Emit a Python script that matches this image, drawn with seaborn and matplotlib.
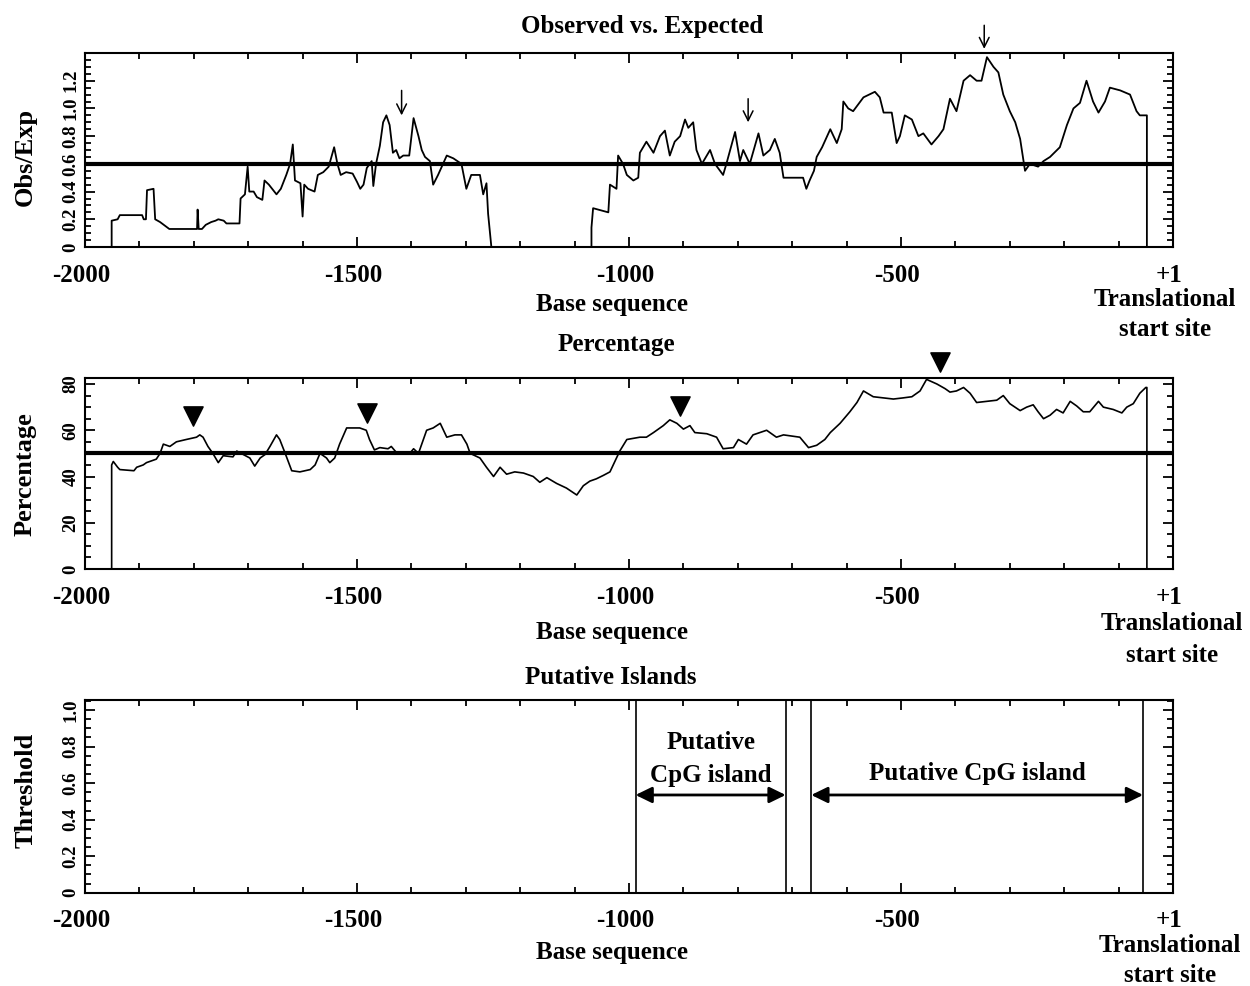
import matplotlib
matplotlib.use("Agg")
import matplotlib.pyplot as plt
from matplotlib.ticker import MultipleLocator
from matplotlib.transforms import ScaledTranslation
import seaborn as sns

# ---------------- data ----------------
xtick_pos = [-2000, -1500, -1000, -500, 0]
xtick_labels = ["-2000", "-1500", "-1000", "-500", "+1"]

# Observed vs Expected (bp, ratio)
oe_bp = [-1951, -1951, -1940, -1936, -1895, -1892, -1888, -1886, -1874, -1871, -1862, -1852, -1845,
         -1794, -1793, -1791, -1785, -1778, -1768, -1760, -1755, -1745, -1740, -1716, -1714, -1706,
         -1701, -1698, -1690, -1684, -1674, -1670, -1662, -1648, -1640, -1630, -1623, -1618, -1614,
         -1604, -1600, -1597, -1590, -1578, -1572, -1562, -1552, -1542, -1536, -1530, -1520, -1508,
         -1500, -1494, -1488, -1482, -1473, -1470, -1465, -1458, -1452, -1446, -1440, -1434, -1428,
         -1422, -1415, -1404, -1396, -1387, -1381, -1375, -1366, -1360, -1351, -1335, -1323, -1308,
         -1299, -1290, -1274, -1268, -1262, -1259, -1253, -1069, -1069, -1066, -1038, -1035, -1023,
         -1020, -1011, -1004, -992, -983, -980, -968, -955, -943, -934, -925, -916, -906, -897, -891,
         -882, -876, -866, -851, -842, -827, -821, -805, -796, -790, -778, -762, -753, -741, -732,
         -723, -716, -680, -674, -668, -660, -655, -645, -630, -618, -609, -606, -597, -588, -569,
         -548, -539, -532, -517, -508, -502, -493, -480, -468, -459, -444, -431, -422, -410, -398,
         -385, -373, -361, -352, -342, -330, -321, -312, -300, -290, -281, -272, -263, -248, -238,
         -226, -208, -195, -183, -171, -159, -147, -137, -125, -116, -97, -79, -67, -61, -48, -48]
oe_val = [0.0, 0.19, 0.20, 0.23, 0.23, 0.20, 0.20, 0.41, 0.42, 0.20, 0.18, 0.15, 0.13,
          0.13, 0.27, 0.13, 0.13, 0.16, 0.18, 0.19, 0.20, 0.19, 0.17, 0.17, 0.35, 0.38,
          0.58, 0.40, 0.40, 0.36, 0.34, 0.48, 0.45, 0.38, 0.42, 0.52, 0.60, 0.74, 0.48,
          0.46, 0.22, 0.45, 0.42, 0.40, 0.52, 0.54, 0.58, 0.72, 0.60, 0.52, 0.54, 0.53,
          0.47, 0.42, 0.45, 0.57, 0.62, 0.44, 0.60, 0.73, 0.90, 0.95, 0.88, 0.68, 0.70,
          0.64, 0.66, 0.66, 0.93, 0.80, 0.70, 0.65, 0.62, 0.45, 0.52, 0.66, 0.64, 0.60,
          0.42, 0.52, 0.52, 0.38, 0.46, 0.24, 0.0, 0.0, 0.14, 0.28, 0.25, 0.45, 0.42,
          0.66, 0.60, 0.52, 0.48, 0.50, 0.68, 0.76, 0.68, 0.80, 0.84, 0.66, 0.76, 0.80, 0.92, 0.86,
          0.90, 0.70, 0.60, 0.70, 0.60, 0.52, 0.60, 0.83, 0.62, 0.70, 0.60, 0.82, 0.66, 0.70, 0.78,
          0.68, 0.50, 0.50, 0.42, 0.48, 0.55, 0.65, 0.72, 0.85, 0.75, 0.85, 1.05, 1.00, 0.98, 1.08,
          1.12, 1.08, 0.97, 0.97, 0.75, 0.80, 0.95, 0.92, 0.80, 0.82, 0.74, 0.80, 0.85, 1.07, 0.98,
          1.20, 1.24, 1.20, 1.20, 1.37, 1.30, 1.26, 1.10, 0.98, 0.90, 0.78, 0.55, 0.60, 0.58, 0.62,
          0.65, 0.72, 0.88, 1.00, 1.04, 1.20, 1.05, 0.97, 1.05, 1.15, 1.13, 1.10, 0.98, 0.95, 0.95, 0.0]
oe_threshold = 0.6
oe_arrow_bp = [-1418, -781, -347]
oe_arrow_top = [1.13, 1.07, 1.60]
oe_arrow_tip = [0.95, 0.90, 1.43]

# GC percentage (bp, %)
gc_bp = [-1951, -1951, -1948, -1940, -1936, -1910, -1905, -1893, -1887, -1869, -1862, -1856, -1844,
         -1832, -1814, -1795, -1789, -1783, -1774, -1765, -1755, -1746, -1728, -1721, -1709, -1697,
         -1688, -1678, -1669, -1660, -1648, -1642, -1632, -1620, -1605, -1586, -1577, -1568, -1556,
         -1550, -1541, -1532, -1519, -1495, -1483, -1477, -1468, -1458, -1443, -1437, -1428, -1403,
         -1396, -1387, -1372, -1360, -1347, -1335, -1320, -1308, -1298, -1292, -1274, -1262, -1249,
         -1237, -1225, -1210, -1194, -1176, -1164, -1151, -1133, -1115, -1096, -1084, -1072, -1060,
         -1047, -1035, -1023, -1017, -1004, -980, -968, -955, -937, -925, -912, -900, -888, -879,
         -857, -839, -827, -808, -799, -784, -772, -747, -729, -716, -686, -670, -655,
         -640, -630, -612, -594, -581, -569, -551, -532, -514, -496, -480, -465, -453, -434, -419,
         -410, -398, -385, -373, -361, -342, -324, -312, -300, -281, -269, -257, -248, -238, -226,
         -214, -202, -189, -177, -165, -153, -137, -128, -110, -94, -85, -73, -61, -50, -48, -48]
gc_val = [0, 45, 46.5, 44, 43, 42.5, 44, 45, 46, 47.5, 50, 54, 53,
          55, 56, 57, 58, 57, 53, 50, 46, 49, 48.5, 51, 49.5, 48,
          44.5, 48, 49.5, 53, 58, 56, 50, 42.5, 42, 43, 45, 50, 48,
          46, 48, 54, 61, 61, 60, 56, 51.5, 52.5, 52, 53, 50.5, 50,
          52, 50, 60, 61, 63, 57, 58, 58, 54, 50, 48, 44, 40,
          44, 41, 42, 41.5, 40, 37.5, 39.5, 37, 35, 32, 36, 38, 39,
          40.5, 42, 48, 51, 56, 57, 57, 59, 62, 64.5, 63, 60.5, 62, 59,
          58.5, 57, 52, 52.5, 56, 54, 58, 60, 57, 58, 57, 52.5, 53.5,
          56, 59, 63, 68, 72, 77, 74.5, 74, 73.5, 74, 74.5, 77, 82, 80, 78,
          76.5, 77, 78.5, 76, 72, 72.5, 73, 75, 71.5, 68.5, 70, 71, 68, 65, 66.5,
          69, 67.5, 72.5, 70.5, 68, 68, 72.5, 70, 69, 67.5, 70, 71.5, 76, 78.5, 78.5, 0]
gc_threshold = 50
gc_marker_bp = [-1801, -1482, -906, -428]
gc_marker_val = [66, 67.5, 70.7, 89.6]

# Putative islands (boundaries in bp)
island_bounds = [-988, -712, -665, -55]
island_arrow_y = 0.535
island_labels = ["Putative\nCpG island", "Putative CpG island"]
island_label_y = [0.73, 0.655]

# ---------------- style ----------------
sns.set_theme(style="ticks")
plt.rcParams["font.family"] = ["Liberation Serif", "DejaVu Serif"]
plt.rcParams["font.weight"] = "bold"
plt.rcParams["axes.labelweight"] = "bold"
for key in ["text.color", "axes.edgecolor", "axes.labelcolor", "xtick.color", "ytick.color"]:
    plt.rcParams[key] = "black"

W, H = 1250, 986
fig = plt.figure(figsize=(12.5, 9.86), dpi=100)


def fx(px):
    return px / W


def fy(py):
    return 1 - py / H


def make_axes(top_px, bottom_px):
    left, right = 85, 1173
    return fig.add_axes([fx(left), fy(bottom_px), (right - left) / W, (bottom_px - top_px) / H])


ax1 = make_axes(53, 247)
ax2 = make_axes(378, 569)
ax3 = make_axes(700, 892.7)

TICK_FS = 18
YT_FS = 13.5
shift = ScaledTranslation(-4 / 100, 0, fig.dpi_scale_trans)


def style_axes(ax, ymax, yminor, ylabels_pos, ylabels):
    ax.set_xlim(-2000, 0)
    ax.set_ylim(0, ymax)
    ax.set_xticks(xtick_pos)
    ax.set_xticklabels(xtick_labels, fontsize=TICK_FS, fontweight="bold", color="black")
    ax.xaxis.set_minor_locator(MultipleLocator(100))
    ax.set_yticks(ylabels_pos)
    ax.set_yticklabels(ylabels, fontsize=YT_FS, fontweight="bold", rotation=90, va="center",
                       color="black")
    ax.yaxis.set_minor_locator(MultipleLocator(yminor))
    ax.tick_params(which="both", direction="in", top=True, right=True, color="black", width=1.3)
    ax.tick_params(which="major", length=7)
    ax.tick_params(which="minor", length=4.5)
    ax.tick_params(axis="x", which="major", pad=12)
    ax.tick_params(axis="y", which="major", pad=4)
    for lab in ax.get_xticklabels():
        lab.set_transform(lab.get_transform() + shift)
    for s in ax.spines.values():
        s.set_linewidth(1.5)
        s.set_color("black")
    ax.set_xlabel("")
    ax.set_ylabel("")


# ---- top panel ----
sns.lineplot(x=oe_bp, y=oe_val, ax=ax1, estimator=None, sort=False, color="black", lw=1.3)
ax1.axhline(oe_threshold, color="black", lw=3)
for xb, yt, yb in zip(oe_arrow_bp, oe_arrow_top, oe_arrow_tip):
    ax1.annotate("", xy=(xb, yb), xytext=(xb, yt), annotation_clip=False,
                 arrowprops=dict(arrowstyle="->,head_length=0.5,head_width=0.25", lw=1.1,
                                 color="black", shrinkA=0, shrinkB=0, mutation_scale=14))
style_axes(ax1, 1.4, 0.05, [0, 0.2, 0.4, 0.6, 0.8, 1.0, 1.2],
           ["0", "0.2", "0.4", "0.6", "0.8", "1.0", "1.2"])

# ---- middle panel ----
sns.lineplot(x=gc_bp, y=gc_val, ax=ax2, estimator=None, sort=False, color="black", lw=1.2)
ax2.axhline(gc_threshold, color="black", lw=3)
sns.scatterplot(x=gc_marker_bp, y=gc_marker_val, ax=ax2, marker="v", s=190, color="black",
                edgecolor="black", clip_on=False, zorder=5)
style_axes(ax2, 82.6, 5, [0, 20, 40, 60, 80], ["0", "20", "40", "60", "80"])

# ---- bottom panel ----
for b in island_bounds:
    ax3.axvline(b, color="black", lw=1.2)
pairs = [(island_bounds[0], island_bounds[1]), (island_bounds[2], island_bounds[3])]
for (a, b), lab, ly in zip(pairs, island_labels, island_label_y):
    ax3.annotate("", xy=(b, island_arrow_y), xytext=(a, island_arrow_y),
                 arrowprops=dict(arrowstyle="<|-|>,head_length=0.45,head_width=0.22", lw=2,
                                 color="black", shrinkA=0, shrinkB=0, mutation_scale=22))
    ax3.text((a + b) / 2, ly, lab, ha="center", va="center", fontsize=18, fontweight="bold",
             linespacing=1.55)
style_axes(ax3, 1.055, 0.05, [0, 0.2, 0.4, 0.6, 0.8, 1.0],
           ["0", "0.2", "0.4", "0.6", "0.8", "1.0"])

# ---- texts ----
TXT = dict(fontsize=18, fontweight="bold", ha="center", va="center")
fig.text(fx(642), fy(27), "Observed vs. Expected", **TXT)
fig.text(fx(612), fy(305), "Base sequence", **TXT)
fig.text(fx(1165), fy(300), "Translational", **TXT)
fig.text(fx(1165), fy(329), "start site", **TXT)

fig.text(fx(616), fy(345), "Percentage", **TXT)
fig.text(fx(612), fy(632), "Base sequence", **TXT)
fig.text(fx(1172), fy(623), "Translational", **TXT)
fig.text(fx(1172), fy(655), "start site", **TXT)

fig.text(fx(611), fy(677), "Putative Islands", **TXT)
fig.text(fx(612), fy(953), "Base sequence", **TXT)
fig.text(fx(1170), fy(946), "Translational", **TXT)
fig.text(fx(1170), fy(976), "start site", **TXT)

YL = dict(fontsize=19, fontweight="bold", ha="center", va="center", rotation=90)
fig.text(fx(25), fy(157), "Obs/Exp", **YL)
fig.text(fx(25), fy(474), "Percentage", **YL)
fig.text(fx(26), fy(790), "Threshold", **YL)

fig.savefig("out.png", dpi=100)
